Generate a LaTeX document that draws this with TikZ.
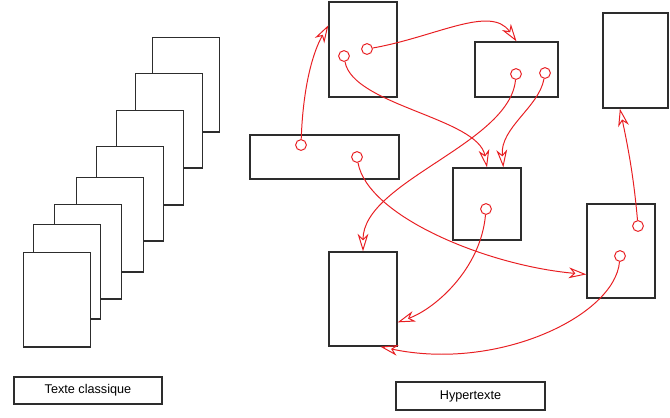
\documentclass[tikz,border=0pt]{standalone}
\usepackage{fontspec}
\setmainfont{Liberation Sans}
\usepackage{xcolor}
\definecolor{linkred}{RGB}{232,30,34}
\definecolor{boxgray}{RGB}{45,45,45}
\usepackage{tikz}
\usetikzlibrary{arrows.meta}
\tikzset{>={Stealth[open,length=0.44cm,width=0.27cm,inset=0.13cm]}}
\tikzset{
  page/.style={draw=boxgray, line width=0.9pt, fill=white, anchor=north west,
    inner sep=0pt, minimum width=1.68cm, minimum height=2.36cm},
  hbox/.style={draw=boxgray, line width=0.9pt, inner sep=0pt},
  anchorpt/.style={circle, draw=linkred, line width=0.7pt, fill=white,
    inner sep=0pt, minimum size=0.27cm},
  hlink/.style={->, linkred, line width=0.7pt},
  labelbox/.style={draw=boxgray, line width=0.9pt, inner sep=0pt,
    font=\fontsize{9}{11}\selectfont}
}

\begin{document}
\begin{tikzpicture}[x=0.025cm, y=0.025cm]
\useasboundingbox (0,0) rectangle (670,-417);

% texte classique: pile de pages
\foreach \x/\y [count=\i] in {152/37,135/73,116/110,96/146,76/177,54/204,33/224,23/252}
  \node[page] (page\i) at (\x,-\y) {};

% hypertexte: les documents
\node[hbox, minimum width=1.70cm, minimum height=2.375cm] (A) at (363,-49.5) {};
\node[hbox, minimum width=2.075cm, minimum height=1.375cm] (B) at (516.5,-69.5) {};
\node[hbox, minimum width=1.625cm, minimum height=2.375cm] (C) at (635.5,-60.5) {};
\node[hbox, minimum width=3.725cm, minimum height=1.10cm] (D) at (324.5,-157) {};
\node[hbox, minimum width=1.70cm, minimum height=1.80cm] (E) at (487,-204) {};
\node[hbox, minimum width=1.70cm, minimum height=2.35cm] (F) at (363,-299) {};
\node[hbox, minimum width=1.70cm, minimum height=2.35cm] (G) at (621,-251) {};

% ancres
\node[anchorpt] (a1) at (344,-56) {};
\node[anchorpt] (a2) at (367,-49) {};
\node[anchorpt] (b1) at (516,-74) {};
\node[anchorpt] (b2) at (545,-73) {};
\node[anchorpt] (d1) at (301,-145) {};
\node[anchorpt] (d2) at (357,-157) {};
\node[anchorpt] (e1) at (486,-209) {};
\node[anchorpt] (g1) at (638,-226) {};
\node[anchorpt] (g2) at (620,-256) {};

% liens
\draw [hlink] (d1) .. controls +(88:60) and +(240:30) .. (A.145);
\draw [hlink] (a2) .. controls +(10:70) and +(125:45) .. (B.north);
\draw [hlink] (a1) .. controls +(-80:50) and +(100:50) .. (E.north);
\draw [hlink] (b2) .. controls +(-100:35) and +(95:40) .. (E.66);
\draw [hlink] (b1) .. controls +(-95:70) and +(90:70) .. (F.north);
\draw [hlink] (d2) .. controls +(-80:60) and +(175:100) .. (G.214);
\draw [hlink] (e1) .. controls +(-95:60) and +(20:40) .. (F.326);
\draw [hlink] (g2) .. controls +(-95:60) and +(-12:120) .. (F.290);
\draw [hlink] (g1) .. controls +(95:45) and +(-78:45) .. (C.252);

% legendes
\node[labelbox, minimum width=3.70cm, minimum height=0.675cm] (classic) at (88,-390.5) {Texte classique};
\node[labelbox, minimum width=3.725cm, minimum height=0.70cm] (hyper) at (470.5,-396) {Hypertexte};
\end{tikzpicture}
\end{document}
